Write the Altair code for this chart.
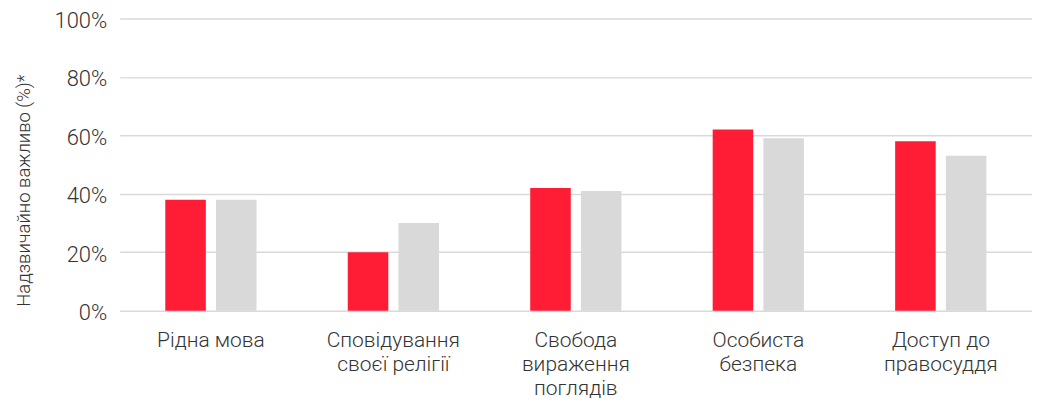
import altair as alt
import pandas as pd

categories = [
    "Рідна мова",
    "Сповідування|своєї релігії",
    "Свобода|вираження|поглядів",
    "Особиста|безпека",
    "Доступ до|правосуддя",
]
series = ["A", "B"]
values_a = [0.38, 0.20, 0.42, 0.62, 0.58]
values_b = [0.38, 0.30, 0.41, 0.59, 0.53]
y_ticks = [0, 0.2, 0.4, 0.6, 0.8, 1.0]
colors = ["#FF1D36", "#D9D9D9"]
y_title = "Надзвичайно важливо (%)*"

rows = []
for c, a, b in zip(categories, values_a, values_b):
    rows.append({"cat": c, "series": "A", "value": a})
    rows.append({"cat": c, "series": "B", "value": b})
df = pd.DataFrame(rows)

chart = (
    alt.Chart(df)
    .mark_bar()
    .encode(
        x=alt.X(
            "cat:N",
            sort=categories,
            scale=alt.Scale(paddingInner=0.5, paddingOuter=0.25),
            axis=alt.Axis(
                title=None,
                labelExpr="split(datum.label, '|')",
                labelAngle=0,
                labelFont="Roboto",
                labelFontWeight=300,
                labelFontSize=21,
                labelLineHeight=24,
                labelColor="#333333",
                labelPadding=19,
                domain=False,
                ticks=False,
                grid=False,
                labelBaseline="top",
            ),
        ),
        xOffset=alt.XOffset(
            "series:N", sort=series, scale=alt.Scale(paddingInner=0.2, paddingOuter=0)
        ),
        y=alt.Y(
            "value:Q",
            scale=alt.Scale(domain=[0, 1]),
            axis=alt.Axis(
                values=y_ticks,
                format=".0%",
                title=y_title,
                titleFont="Roboto",
                titleFontWeight=300,
                titleFontSize=18.5,
                titleColor="#333333",
                titleX=-96,
                titleY=172,
                titleAlign="center",
                titleBaseline="middle",
                titleAngle=-90,
                labelFont="Roboto",
                labelFontWeight=300,
                labelFontSize=22,
                labelColor="#333333",
                labelPadding=13,
                labelOffset=2,
                domain=False,
                ticks=False,
                gridColor="#D9D9D9",
                gridWidth=1.5,
            ),
        ),
        color=alt.Color(
            "series:N", scale=alt.Scale(domain=series, range=colors), legend=None
        ),
    )
    .properties(
        width=915,
        height=293,
        autosize=alt.AutoSizeParams(type="none"),
        padding={"left": 112, "top": 10, "right": 0, "bottom": 92},
    )
    .configure_view(stroke=None)
)

chart.save("out.html", embed_options={"renderer": "svg", "actions": False})
